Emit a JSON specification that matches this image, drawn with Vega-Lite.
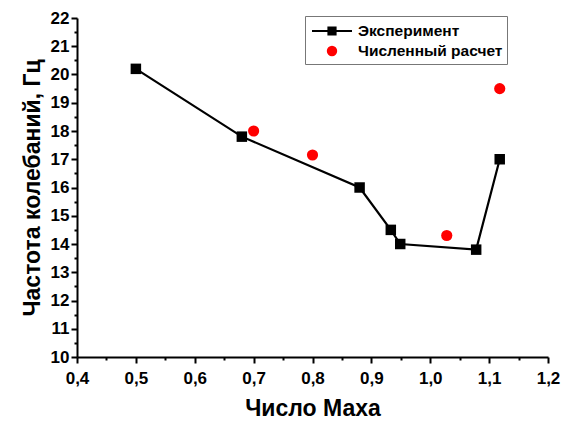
{
  "$schema": "https://vega.github.io/schema/vega-lite/v6.json",
  "width": 471,
  "height": 339,
  "autosize": {"type": "none"},
  "padding": {"left": 77, "top": 18, "right": 19, "bottom": 64},
  "background": "white",
  "config": {
    "view": {"stroke": null},
    "font": "Liberation Sans",
    "axis": {
      "grid": false,
      "domainColor": "black",
      "domainWidth": 2,
      "tickColor": "black",
      "tickWidth": 2,
      "labelFont": "Liberation Sans",
      "labelFontWeight": "bold",
      "labelFontSize": 17,
      "labelColor": "black",
      "titleFont": "Liberation Sans",
      "titleFontWeight": "bold",
      "titleFontSize": 23,
      "titleColor": "black",
      "labelOverlap": false,
      "labelFlush": false
    }
  },
  "data": {
    "values": [
      {"mach": 0.5, "freq": 20.2, "series": "Эксперимент"},
      {"mach": 0.68, "freq": 17.8, "series": "Эксперимент"},
      {"mach": 0.88, "freq": 16.0, "series": "Эксперимент"},
      {"mach": 0.933, "freq": 14.5, "series": "Эксперимент"},
      {"mach": 0.949, "freq": 14.0, "series": "Эксперимент"},
      {"mach": 1.078, "freq": 13.8, "series": "Эксперимент"},
      {"mach": 1.118, "freq": 17.0, "series": "Эксперимент"},
      {"mach": 0.70, "freq": 18.0, "series": "Численный расчет"},
      {"mach": 0.80, "freq": 17.15, "series": "Численный расчет"},
      {"mach": 1.028, "freq": 14.3, "series": "Численный расчет"},
      {"mach": 1.118, "freq": 19.5, "series": "Численный расчет"}
    ]
  },
  "encoding": {
    "x": {
      "field": "mach",
      "type": "quantitative",
      "scale": {"domain": [0.4, 1.2], "nice": false, "zero": false},
      "axis": {
        "title": "Число Маха",
        "values": [0.4, 0.45, 0.5, 0.55, 0.6, 0.65, 0.7, 0.75, 0.8, 0.85, 0.9, 0.95, 1.0, 1.05, 1.1, 1.15, 1.2],
        "labelExpr": "abs(datum.value*10 - round(datum.value*10)) < 0.01 ? replace(format(datum.value, '.1f'), '.', ',') : ''",
        "tickSize": {"condition": {"test": "abs(datum.value*10 - round(datum.value*10)) < 0.01", "value": 6}, "value": 3},
        "labelPadding": 7,
        "titlePadding": 11
      }
    },
    "y": {
      "field": "freq",
      "type": "quantitative",
      "scale": {"domain": [10, 22], "nice": false, "zero": false},
      "axis": {
        "title": "Частота колебаний, Гц",
        "values": [10, 10.5, 11, 11.5, 12, 12.5, 13, 13.5, 14, 14.5, 15, 15.5, 16, 16.5, 17, 17.5, 18, 18.5, 19, 19.5, 20, 20.5, 21, 21.5, 22],
        "labelExpr": "abs(datum.value - round(datum.value)) < 0.01 ? format(datum.value, 'd') : ''",
        "tickSize": {"condition": {"test": "abs(datum.value - round(datum.value)) < 0.01", "value": 6}, "value": 3},
        "labelPadding": 2,
        "titlePadding": 6
      }
    }
  },
  "layer": [
    {
      "transform": [{"filter": "datum.series == 'Эксперимент'"}],
      "mark": {"type": "line", "color": "black", "strokeWidth": 2.2}
    },
    {
      "transform": [{"filter": "datum.series == 'Эксперимент'"}],
      "mark": {"type": "point", "shape": "square", "filled": true, "color": "black", "size": 110, "opacity": 1}
    },
    {
      "transform": [{"filter": "datum.series == 'Численный расчет'"}],
      "mark": {"type": "point", "shape": "circle", "filled": true, "color": "#ff0000", "size": 125, "opacity": 1}
    },
    {
      "transform": [{"filter": "datum.mach < 0"}],
      "mark": {"type": "point", "filled": true, "opacity": 1, "strokeWidth": 2, "size": 400},
      "encoding": {
        "fill": {
          "field": "series",
          "type": "nominal",
          "scale": {"domain": ["Эксперимент", "Численный расчет"], "range": ["black", "#ff0000"]},
          "legend": {
            "title": "\u00a0",
            "titleOrient": "left",
            "titleFontSize": 10,
            "titlePadding": 12,
            "orient": "none",
            "legendX": 228,
            "legendY": -2,
            "fillColor": "white",
            "strokeColor": "#777777",
            "padding": 4,
            "symbolSize": 400,
            "symbolStrokeWidth": 2,
            "labelOffset": 15,
            "labelLimit": 400,
            "labelFont": "Liberation Sans",
            "labelFontWeight": "bold",
            "labelFontSize": 15.5,
            "labelColor": "black",
            "rowPadding": 0,
            "labelExpr": "datum.label + '\u00a0\u00a0\u00a0\u00a0'"
          }
        },
        "stroke": {
          "field": "series",
          "type": "nominal",
          "scale": {"domain": ["Эксперимент", "Численный расчет"], "range": ["black", "#ff0000"]}
        },
        "shape": {
          "field": "series",
          "type": "nominal",
          "scale": {
            "domain": ["Эксперимент", "Численный расчет"],
            "range": [
              "M-2,0H-0.36M0.36,0H2M-0.36,-0.36H0.36V0.36H-0.36Z",
              "M-0.42,0A0.42,0.42 0 1,0 0.42,0A0.42,0.42 0 1,0 -0.42,0Z"
            ]
          }
        }
      }
    }
  ]
}
